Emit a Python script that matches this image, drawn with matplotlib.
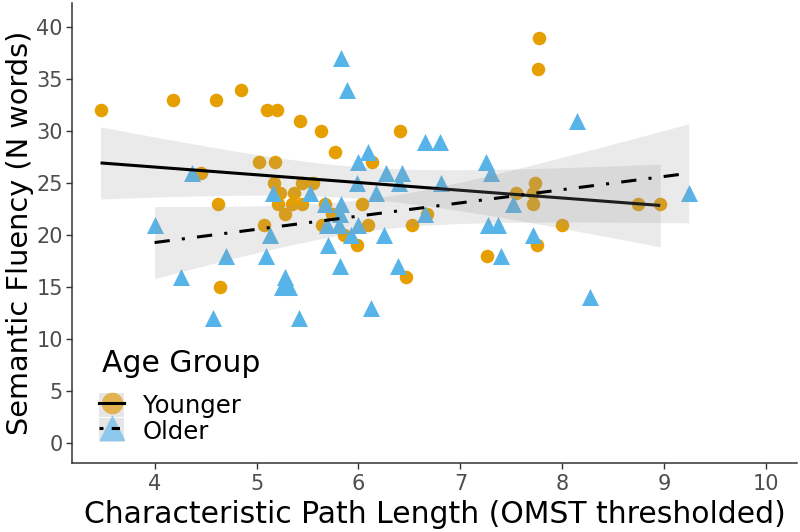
import matplotlib.pyplot as plt
import numpy as np
from matplotlib.lines import Line2D
from matplotlib.patches import Patch
from matplotlib.legend_handler import HandlerTuple

plt.rcParams['font.family'] = ['DejaVu Sans']

# Younger group (orange circles)
young_x = [3.47, 4.18, 4.60, 4.85, 5.10, 5.20, 5.43, 5.02, 5.18, 4.46,
           5.17, 5.45, 5.55, 5.23, 5.37, 4.62, 5.07, 4.64, 5.21, 5.35,
           5.45, 5.28, 5.67, 6.03, 5.74, 5.64, 6.09, 5.86, 5.99, 6.53,
           6.67, 6.47, 7.26, 7.75, 7.55, 7.71, 7.71, 7.73, 8.00, 8.74,
           8.96, 7.77, 7.76, 5.63, 5.77, 6.41, 6.13]
young_y = [32, 33, 33, 34, 32, 32, 31, 27, 27, 26,
           25, 25, 25, 24, 24, 23, 21, 15, 23, 23,
           23, 22, 23, 23, 22, 21, 21, 20, 19, 21,
           22, 16, 18, 19, 24, 24, 23, 25, 21, 23,
           23, 39, 36, 30, 28, 30, 27]

# Older group (blue triangles)
old_x = [4.00, 4.26, 4.37, 4.57, 4.70, 5.09, 5.13, 5.16, 5.28, 5.25,
         5.32, 5.42, 5.52, 5.67, 5.83, 5.82, 5.69, 5.81, 6.00, 5.93,
         5.70, 6.25, 5.82, 6.39, 6.12, 5.83, 5.89, 6.09, 6.00, 6.65,
         6.80, 7.25, 7.30, 6.27, 6.43, 6.40, 5.99, 6.81, 6.17, 7.27,
         7.37, 7.40, 7.71, 7.52, 9.24, 8.27, 8.14, 6.65]
old_y = [21, 16, 26, 12, 18, 18, 20, 24, 16, 15,
         15, 12, 24, 23, 23, 22, 21, 21, 21, 20,
         19, 20, 17, 17, 13, 37, 34, 28, 27, 29,
         29, 27, 26, 26, 26, 25, 25, 25, 24, 21,
         21, 18, 20, 23, 24, 14, 31, 22]

orange = '#E69F00'
blue = '#56B4E9'


def lm_band(x, y, n=80):
    x = np.asarray(x, float)
    y = np.asarray(y, float)
    b, a = np.polyfit(x, y, 1)
    xs = np.linspace(x.min(), x.max(), n)
    fit = a + b * xs
    resid = y - (a + b * x)
    dof = len(x) - 2
    s = np.sqrt(np.sum(resid ** 2) / dof)
    se = s * np.sqrt(1 / len(x) + (xs - x.mean()) ** 2 / np.sum((x - x.mean()) ** 2))
    t = 2.014  # ~t(0.975, 45)
    return xs, fit, fit - t * se, fit + t * se


fig = plt.figure(figsize=(8, 5.32), dpi=100)
ax = fig.add_axes([0.09, 0.13, 0.906, 0.864])

ax.scatter(young_x, young_y, s=95, marker='o', color=orange, lw=0, zorder=2)
ax.scatter(old_x, old_y, s=150, marker='^', color=blue, lw=0, zorder=2)

xs, fit, lo, hi = lm_band(young_x, young_y)
ax.fill_between(xs, lo, hi, color='#999999', alpha=0.2, lw=0, zorder=3)
ax.plot(xs, fit, color='black', lw=2.2, solid_capstyle='butt', zorder=4)

xs, fit, lo, hi = lm_band(old_x, old_y)
ax.fill_between(xs, lo, hi, color='#999999', alpha=0.2, lw=0, zorder=5)
ax.plot(xs, fit, color='black', lw=2.2, dashes=(5, 4, 1, 4),
        dash_capstyle='butt', zorder=6)

ax.set_xlim(3.19, 10.3)
ax.set_ylim(-1.9, 42.3)
ax.set_xticks(range(4, 11))
ax.set_yticks(range(0, 41, 5))
ax.tick_params(labelsize=15, labelcolor='#4D4D4D', color='#333333',
               length=4, width=1)
ax.tick_params(axis='x', pad=4)
ax.tick_params(axis='y', pad=2.5)
for side in ['top', 'right']:
    ax.spines[side].set_visible(False)
for side in ['left', 'bottom']:
    ax.spines[side].set_color('#333333')
    ax.spines[side].set_linewidth(1.1)

ax.set_xlabel('Characteristic Path Length (OMST thresholded)', fontsize=21.5,
              labelpad=4)
ax.set_ylabel('Semantic Fluency (N words)', fontsize=20.7, labelpad=2)

# legend: title as its own text, keys below it
ax.text(0.041, 0.198, 'Age Group', transform=ax.transAxes, fontsize=21.5,
        ha='left', va='baseline')
key_bg = Patch(facecolor='#E6E6E6', edgecolor='none')
h_young = (key_bg,
           Line2D([], [], marker='o', color='#E3B352', ls='none', markersize=14.5),
           Line2D([], [], color='black', lw=2.2))
h_old = (key_bg,
         Line2D([], [], marker='^', color='#8CC8EC', ls='none', markersize=17),
         Line2D([], [], color='black', lw=2.2, dashes=(1.3, 2.7, 2.7, 3)))
leg = ax.legend([h_young, h_old], ['Younger', 'Older'],
                handler_map={tuple: HandlerTuple(ndivide=1)},
                loc='upper left', bbox_to_anchor=(0.037, 0.152),
                frameon=False, borderpad=0, borderaxespad=0,
                fontsize=17.5, handlelength=1.05, handleheight=1.15,
                handletextpad=0.75, labelspacing=0.0)

fig.savefig('out.png', dpi=100)
